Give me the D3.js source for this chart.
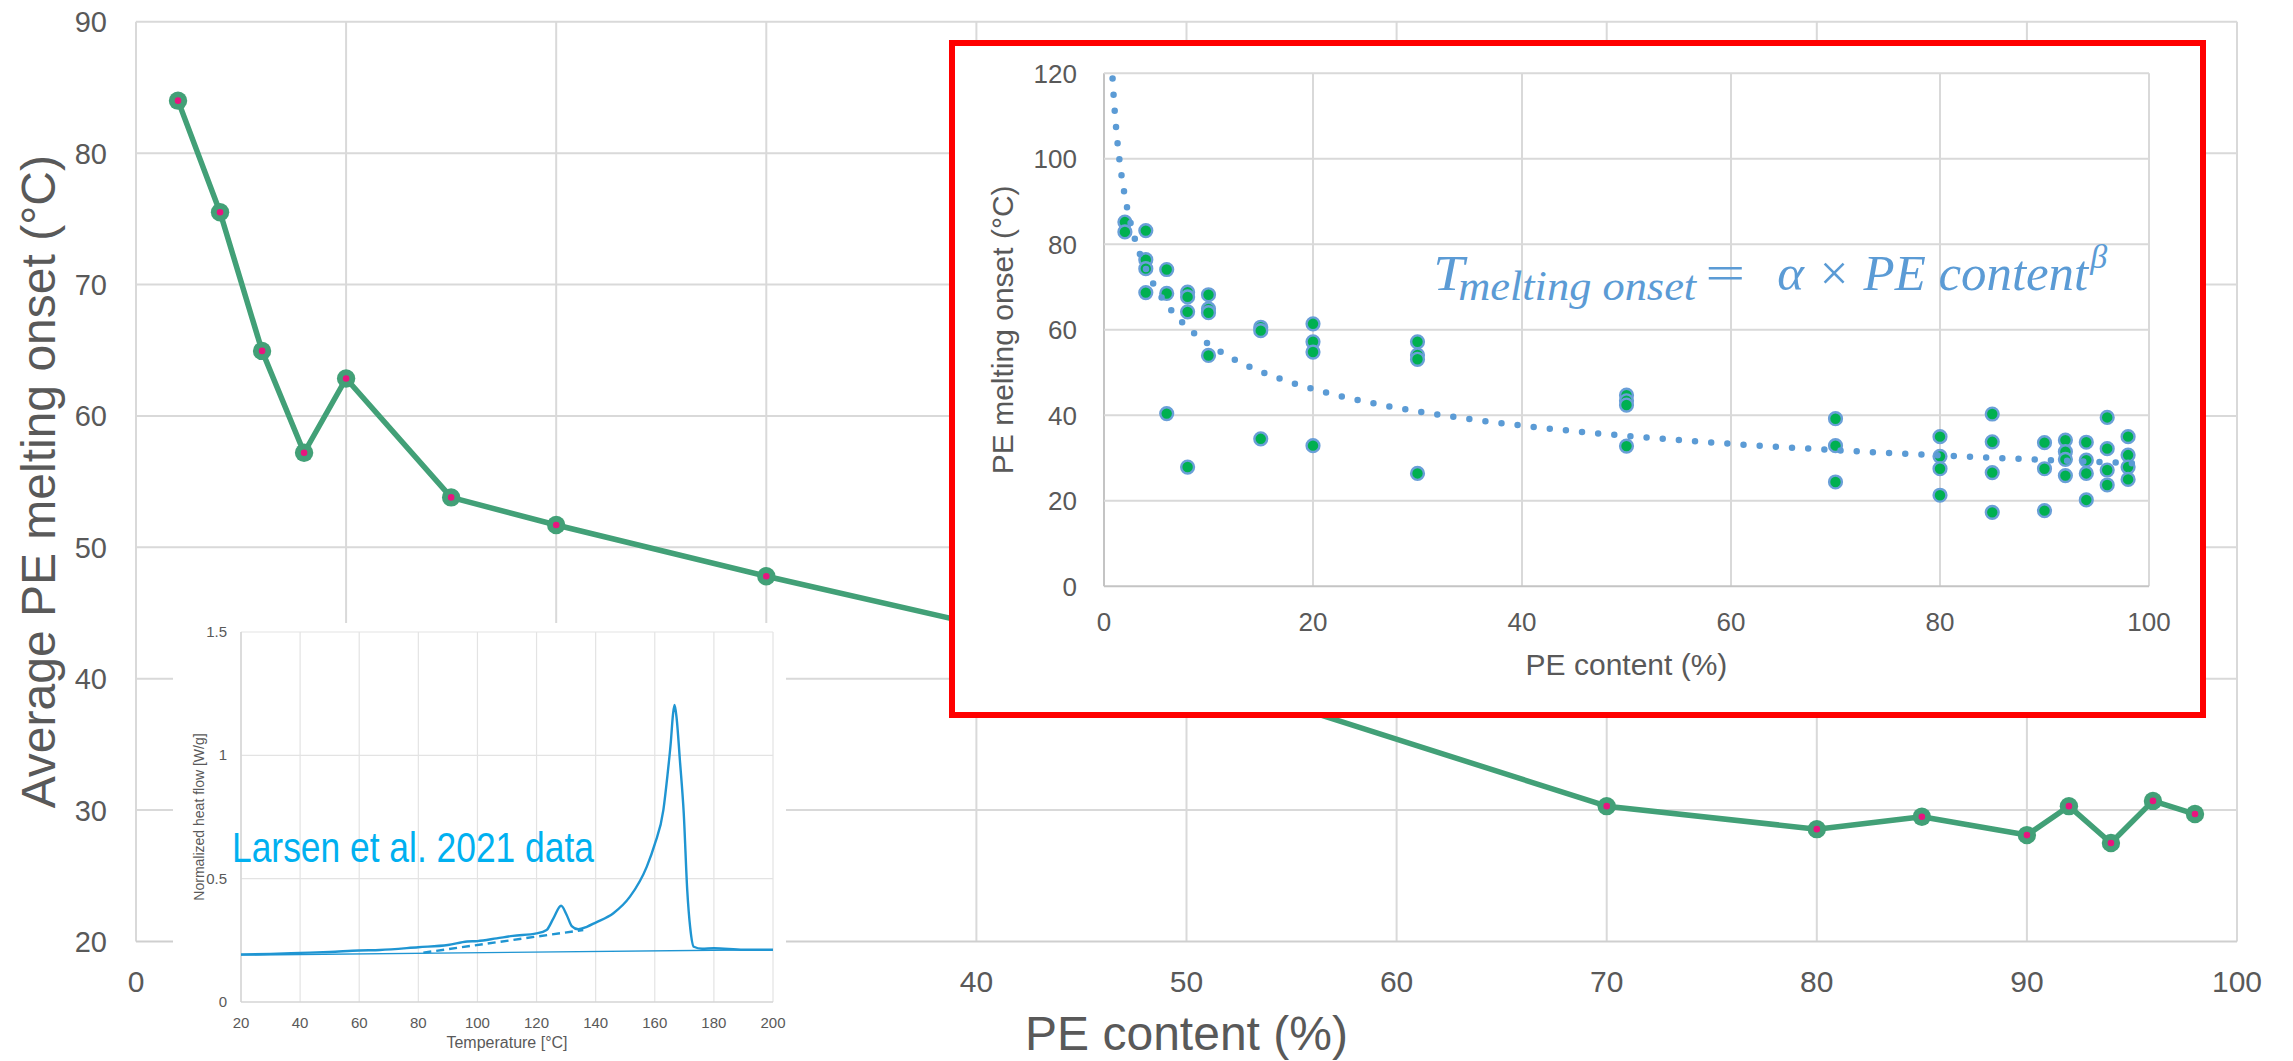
<!DOCTYPE html>
<html>
<head>
<meta charset="utf-8">
<script src="https://cdn.jsdelivr.net/npm/d3@7"></script>
<style>
  html, body { margin: 0; padding: 0; background: #ffffff; }
  svg { display: block; }
</style>
</head>
<body>
<svg id="chart" width="2293" height="1061"></svg>
<script>
// ---- Average PE melting onset vs PE content (main line) ----
const peContent = [2, 4, 6, 8, 10, 15, 20, 30, 50, 70, 80, 85, 90, 92, 94, 96, 98];
const avgOnset  = [84.0, 75.5, 64.95, 57.2, 62.85, 53.8, 51.7, 47.8, 40.5, 30.3, 28.55, 29.5, 28.1, 30.3, 27.5, 30.7, 29.7];
const mainXTicks = [0, 10, 20, 30, 40, 50, 60, 70, 80, 90, 100];
const mainYTicks = [20, 30, 40, 50, 60, 70, 80, 90];

// ---- Individual measurements (framed inset) ----
const sampleContent = [
  2, 2,
  4, 4, 4, 4,
  6, 6, 6,
  8, 8, 8, 8,
  10, 10, 10, 10,
  15, 15, 15,
  20, 20, 20, 20,
  30, 30, 30, 30,
  50, 50, 50, 50,
  70, 70, 70,
  80, 80, 80, 80,
  85, 85, 85, 85,
  90, 90, 90,
  92, 92, 92, 92,
  94, 94, 94, 94,
  96, 96, 96, 96,
  98, 98, 98, 98
];
const sampleOnset = [
  85.2, 82.9,
  83.2, 76.4, 74.3, 68.7,
  74.1, 68.5, 40.4,
  68.8, 67.7, 64.2, 27.9,
  68.2, 64.9, 64.0, 54.0,
  60.6, 59.8, 34.5,
  61.4, 57.2, 54.8, 32.9,
  57.2, 54.1, 53.1, 26.4,
  44.7, 43.4, 42.4, 32.8,
  39.2, 32.9, 24.4,
  35.0, 30.4, 27.5, 21.3,
  40.3, 33.8, 26.6, 17.3,
  33.6, 27.5, 17.7,
  34.2, 31.5, 29.7, 25.9,
  33.7, 29.5, 26.4, 20.2,
  39.5, 32.2, 27.2, 23.7,
  35.0, 30.7, 27.9, 25.0
];
const insetXTicks = [0, 20, 40, 60, 80, 100];
const insetYTicks = [0, 20, 40, 60, 80, 100, 120];
// power-law trendline  T = alpha * content^beta
const fitAlpha = 112;
const fitBeta = -0.296;
const fitRange = [0.82, 98.5];

// ---- DSC thermogram (Larsen et al. 2021) ----
const dscTemp = [20, 30, 40, 50, 60, 67, 80, 90, 96.5, 100, 106.5, 112, 120, 123.4, 125.7, 128.3, 130.2, 131.9, 134.1, 137,
                 140, 146, 151.6, 157.3, 160, 162.9, 164.3, 165.4, 166.2, 166.7, 167.4, 168.5, 169.8, 171, 172, 173.2, 176, 180, 190, 200];
const dscFlow = [0.193, 0.195, 0.199, 0.203, 0.209, 0.211, 0.222, 0.231, 0.245, 0.247, 0.258, 0.268, 0.278, 0.292, 0.339, 0.390, 0.353, 0.308, 0.295, 0.305,
                 0.322, 0.360, 0.427, 0.549, 0.640, 0.778, 0.92, 1.05, 1.17, 1.204, 1.15, 0.98, 0.765, 0.45, 0.30, 0.224, 0.216, 0.218, 0.212, 0.212];
const dscBaseTemp = [20, 200];
const dscBaseFlow = [0.190, 0.212];
const dscTangentTemp = [81.7, 135.8];
const dscTangentFlow = [0.200, 0.292];
const dscXTicks = [20, 40, 60, 80, 100, 120, 140, 160, 180, 200];
const dscYTicks = [0, 0.5, 1, 1.5];
const dscYLabels = ["0", "0.5", "1", "1.5"];

// ---- styling ----
const SANS = "'Liberation Sans', Arial, sans-serif";
const NARROW = "'Liberation Sans Narrow', 'Arial Narrow', 'Liberation Sans', sans-serif";
const SERIF = "'Liberation Serif', 'Times New Roman', serif";
const TEXT = "#595959";
const GRID = "#d9d9d9";
const LINE_GREEN = "#42a077";
const DOT_PINK = "#e8157f";
const SCATTER_GREEN = "#00b050";
const FIT_BLUE = "#5b9bd5";
const DSC_BLUE = "#1f95d2";

const svg = d3.select("#chart");
svg.append("rect").attr("width", 2293).attr("height", 1061).attr("fill", "#ffffff");

// ================= main chart =================
const xM = d3.scaleLinear().domain([0, 100]).range([136, 2237]);
const yM = d3.scaleLinear().domain([20, 90]).range([941.5, 21.8]);

const main = svg.append("g");
main.selectAll("line.vgrid").data(mainXTicks).join("line")
  .attr("x1", d => xM(d)).attr("x2", d => xM(d))
  .attr("y1", yM(20)).attr("y2", yM(90))
  .attr("stroke", GRID).attr("stroke-width", 2);
main.selectAll("line.hgrid").data(mainYTicks).join("line")
  .attr("x1", xM(0)).attr("x2", xM(100))
  .attr("y1", d => yM(d)).attr("y2", d => yM(d))
  .attr("stroke", d => d === 20 ? "#cfcfcf" : GRID).attr("stroke-width", 2);

main.selectAll("text.ylab").data(mainYTicks).join("text")
  .attr("x", 107).attr("y", d => yM(d) + 10.5)
  .attr("text-anchor", "end")
  .attr("font-family", SANS).attr("font-size", 29).attr("fill", TEXT)
  .text(d => d);
main.selectAll("text.xlab").data(mainXTicks).join("text")
  .attr("x", d => xM(d)).attr("y", 992)
  .attr("text-anchor", "middle")
  .attr("font-family", SANS).attr("font-size", 30).attr("fill", TEXT)
  .text(d => d);

main.append("text")
  .attr("transform", `translate(55, ${(yM(20) + yM(90)) / 2}) rotate(-90)`)
  .attr("text-anchor", "middle")
  .attr("font-family", SANS).attr("font-size", 48).attr("fill", TEXT)
  .text("Average PE melting onset (°C)");
main.append("text")
  .attr("x", xM(50)).attr("y", 1050)
  .attr("text-anchor", "middle")
  .attr("font-family", SANS).attr("font-size", 48).attr("fill", TEXT)
  .text("PE content (%)");

const mainPts = peContent.map((c, i) => [c, avgOnset[i]]);
main.append("path")
  .datum(mainPts)
  .attr("fill", "none").attr("stroke", LINE_GREEN).attr("stroke-width", 5.5)
  .attr("stroke-linejoin", "round")
  .attr("d", d3.line().x(d => xM(d[0])).y(d => yM(d[1])));
main.selectAll("circle.mk").data(mainPts).join("circle")
  .attr("cx", d => xM(d[0])).attr("cy", d => yM(d[1])).attr("r", 9.2)
  .attr("fill", LINE_GREEN);
main.selectAll("circle.ctr").data(mainPts).join("circle")
  .attr("cx", d => xM(d[0])).attr("cy", d => yM(d[1])).attr("r", 3.3)
  .attr("fill", DOT_PINK);

// ================= DSC thermogram panel =================
const dsc = svg.append("g");
dsc.append("rect").attr("x", 173).attr("y", 623).attr("width", 613).attr("height", 438).attr("fill", "#ffffff");

const xD = d3.scaleLinear().domain([20, 200]).range([241, 773]);
const yD = d3.scaleLinear().domain([0, 1.5]).range([1002, 632]);

dsc.selectAll("line.dv").data(dscXTicks).join("line")
  .attr("x1", d => xD(d)).attr("x2", d => xD(d)).attr("y1", yD(0)).attr("y2", yD(1.5))
  .attr("stroke", "#e3e3e3").attr("stroke-width", 1.2);
dsc.selectAll("line.dh").data(dscYTicks).join("line")
  .attr("x1", xD(20)).attr("x2", xD(200)).attr("y1", d => yD(d)).attr("y2", d => yD(d))
  .attr("stroke", d => d === 0 ? "#d4d4d4" : "#e3e3e3").attr("stroke-width", d => d === 0 ? 1.6 : 1.2);
dsc.append("line").attr("x1", xD(20)).attr("x2", xD(20)).attr("y1", yD(0)).attr("y2", yD(1.5))
  .attr("stroke", "#d4d4d4").attr("stroke-width", 1.4);

dsc.selectAll("text.dyl").data(dscYTicks).join("text")
  .attr("x", 227).attr("y", d => yD(d) + 5)
  .attr("text-anchor", "end").attr("font-family", NARROW).attr("font-size", 15).attr("fill", TEXT)
  .text((d, i) => dscYLabels[i]);
dsc.selectAll("text.dxl").data(dscXTicks).join("text")
  .attr("x", d => xD(d)).attr("y", 1028)
  .attr("text-anchor", "middle").attr("font-family", NARROW).attr("font-size", 15).attr("fill", TEXT)
  .text(d => d);
dsc.append("text")
  .attr("x", (xD(20) + xD(200)) / 2).attr("y", 1048)
  .attr("text-anchor", "middle").attr("font-family", NARROW).attr("font-size", 16).attr("fill", TEXT)
  .text("Temperature [°C]");
dsc.append("text")
  .attr("transform", `translate(204, ${(yD(0) + yD(1.5)) / 2}) rotate(-90)`)
  .attr("text-anchor", "middle").attr("font-family", SANS).attr("font-size", 14).attr("fill", TEXT)
  .text("Normalized heat flow [W/g]");

const dscLine = d3.line().x(d => xD(d[0])).y(d => yD(d[1]));
dsc.append("path")
  .datum(dscBaseTemp.map((t, i) => [t, dscBaseFlow[i]]))
  .attr("fill", "none").attr("stroke", DSC_BLUE).attr("stroke-width", 1.4)
  .attr("d", dscLine);
dsc.append("path")
  .datum(dscTangentTemp.map((t, i) => [t, dscTangentFlow[i]]))
  .attr("fill", "none").attr("stroke", DSC_BLUE).attr("stroke-width", 2.4)
  .attr("stroke-dasharray", "8,5")
  .attr("d", dscLine);
dsc.append("path")
  .datum(dscTemp.map((t, i) => [t, dscFlow[i]]))
  .attr("fill", "none").attr("stroke", DSC_BLUE).attr("stroke-width", 2.4)
  .attr("stroke-linejoin", "round")
  .attr("d", dscLine.curve(d3.curveMonotoneX));

dsc.append("text")
  .attr("x", 232).attr("y", 862)
  .attr("font-family", NARROW).attr("font-size", 42).attr("fill", "#00b0f0")
  .attr("textLength", 362).attr("lengthAdjust", "spacingAndGlyphs")
  .text("Larsen et al. 2021 data");

// ================= framed inset: individual measurements =================
const inset = svg.append("g");
inset.append("rect")
  .attr("x", 952).attr("y", 43).attr("width", 1251).attr("height", 672)
  .attr("fill", "#ffffff").attr("stroke", "#ff0000").attr("stroke-width", 6);

const xI = d3.scaleLinear().domain([0, 100]).range([1104, 2149]);
const yI = d3.scaleLinear().domain([0, 120]).range([586.3, 73.3]);

inset.selectAll("line.iv").data(insetXTicks).join("line")
  .attr("x1", d => xI(d)).attr("x2", d => xI(d)).attr("y1", yI(0)).attr("y2", yI(120))
  .attr("stroke", d => d === 0 ? "#c4c4c4" : GRID).attr("stroke-width", 2);
inset.selectAll("line.ih").data(insetYTicks).join("line")
  .attr("x1", xI(0)).attr("x2", xI(100)).attr("y1", d => yI(d)).attr("y2", d => yI(d))
  .attr("stroke", d => d === 0 ? "#c4c4c4" : GRID).attr("stroke-width", 2);

inset.selectAll("text.iyl").data(insetYTicks).join("text")
  .attr("x", 1077).attr("y", d => yI(d) + 9.5)
  .attr("text-anchor", "end").attr("font-family", SANS).attr("font-size", 26).attr("fill", TEXT)
  .text(d => d);
inset.selectAll("text.ixl").data(insetXTicks).join("text")
  .attr("x", d => xI(d)).attr("y", 631)
  .attr("text-anchor", "middle").attr("font-family", SANS).attr("font-size", 26).attr("fill", TEXT)
  .text(d => d);
inset.append("text")
  .attr("x", (xI(0) + xI(100)) / 2).attr("y", 675)
  .attr("text-anchor", "middle").attr("font-family", SANS).attr("font-size", 30).attr("fill", TEXT)
  .text("PE content (%)");
inset.append("text")
  .attr("transform", `translate(1013, ${(yI(0) + yI(120)) / 2}) rotate(-90)`)
  .attr("text-anchor", "middle").attr("font-family", SANS).attr("font-size", 30).attr("fill", TEXT)
  .text("PE melting onset (°C)");

// trendline, sampled on a log-spaced grid
const fitPts = d3.range(0, 401).map(i => {
  const x = fitRange[0] * Math.pow(fitRange[1] / fitRange[0], i / 400);
  return [x, fitAlpha * Math.pow(x, fitBeta)];
});

// measurement markers
const samplePts = sampleContent.map((c, i) => [c, sampleOnset[i]]);
inset.selectAll("circle.sp").data(samplePts).join("circle")
  .attr("cx", d => xI(d[0])).attr("cy", d => yI(d[1])).attr("r", 6.4)
  .attr("fill", SCATTER_GREEN).attr("stroke", "#6a9fd8").attr("stroke-width", 2.4);

inset.append("path")
  .datum(fitPts)
  .attr("fill", "none").attr("stroke", FIT_BLUE).attr("stroke-width", 6.5)
  .attr("stroke-linecap", "round").attr("stroke-dasharray", "0 16.2")
  .attr("d", d3.line().x(d => xI(d[0])).y(d => yI(d[1])));

// fitted equation
const eqX = xI(31.5), eqY = yI(69.3);
const eq = inset.append("g").attr("transform", `translate(${eqX}, ${eqY})`).attr("fill", FIT_BLUE);
eq.append("text").attr("x", 0).attr("y", 0)
  .attr("font-family", SERIF).attr("font-style", "italic").attr("font-size", 50)
  .attr("textLength", 31).attr("lengthAdjust", "spacingAndGlyphs")
  .text("T");
eq.append("text").attr("x", 25).attr("y", 10)
  .attr("font-family", SERIF).attr("font-style", "italic").attr("font-size", 42)
  .attr("textLength", 238).attr("lengthAdjust", "spacingAndGlyphs")
  .text("melting onset");
eq.append("text").attr("x", 272).attr("y", 0)
  .attr("font-family", SERIF).attr("font-size", 50)
  .attr("textLength", 40).attr("lengthAdjust", "spacingAndGlyphs")
  .text("=");
eq.append("text").attr("x", 344).attr("y", 0)
  .attr("font-family", SERIF).attr("font-style", "italic").attr("font-size", 50)
  .attr("textLength", 311).attr("lengthAdjust", "spacingAndGlyphs")
  .text("α × PE content");
eq.append("text").attr("x", 657).attr("y", -22)
  .attr("font-family", SERIF).attr("font-style", "italic").attr("font-size", 34)
  .text("β");
</script>
</body>
</html>
